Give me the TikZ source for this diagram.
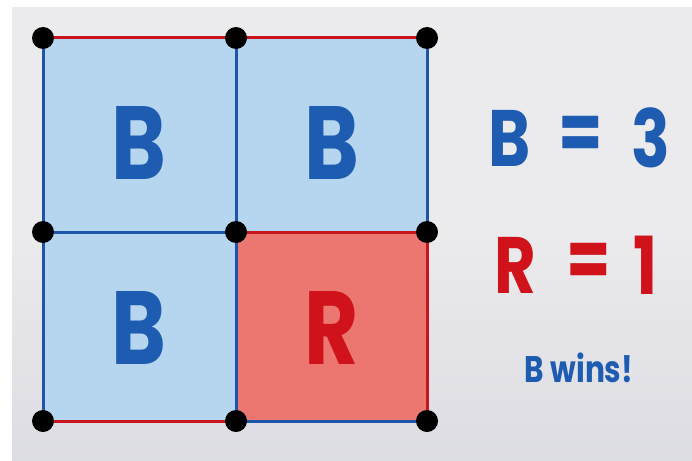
\documentclass[tikz,border=0pt]{standalone}
\usepackage{fontspec}
\newfontfamily\markerfont{Poppins}
\pgfdeclarelayer{back}
\pgfdeclarelayer{mid}
\pgfsetlayers{back,mid,main}
\definecolor{paper}{HTML}{EBEBED}
\definecolor{paperlow}{HTML}{DCDCE3}
\definecolor{bluefill}{HTML}{B6D6EF}
\definecolor{redfill}{HTML}{EC7670}
\definecolor{blueedge}{HTML}{1D55A8}
\definecolor{rededge}{HTML}{C8141C}
\definecolor{bluetext}{HTML}{1E5CB2}
\definecolor{redtext}{HTML}{D0121A}
\tikzset{
  dot/.style={circle, fill=black, inner sep=0pt, minimum size=22pt},
  bedge/.style={draw=blueedge, line width=3pt},
  redge/.style={draw=rededge, line width=3pt},
  glyph/.style={transform shape, xscale=0.8, inner sep=0pt},
  cellB/.style={glyph, text=bluetext, font=\markerfont\bfseries\fontsize{104}{104}\selectfont},
  cellR/.style={glyph, text=redtext, font=\markerfont\bfseries\fontsize{104}{104}\selectfont},
  scoreB/.style={glyph, text=bluetext, font=\markerfont\bfseries\fontsize{80}{80}\selectfont},
  scoreR/.style={glyph, text=redtext, font=\markerfont\bfseries\fontsize{80}{80}\selectfont},
  verdict/.style={glyph, text=bluetext, font=\markerfont\bfseries\fontsize{37}{37}\selectfont},
}
\begin{document}
\begin{tikzpicture}[x=1pt, y=-1pt]
  \useasboundingbox (0,0) rectangle (692,460);

  % corner dots of the 2x2 board
  \node[dot] (d00) at (43,38) {};
  \node[dot] (d10) at (236,38) {};
  \node[dot] (d20) at (427,38) {};
  \node[dot] (d01) at (43,232) {};
  \node[dot] (d11) at (236,232) {};
  \node[dot] (d21) at (427,232) {};
  \node[dot] (d02) at (43,421) {};
  \node[dot] (d12) at (236,421) {};
  \node[dot] (d22) at (427,421) {};

  % backdrop
  \begin{pgfonlayer}{back}
    \fill[white] (0,0) rectangle (692,460);
    \shade[top color=paper, bottom color=paperlow, middle color=paper] (12,8) rectangle (692,460);
  \end{pgfonlayer}

  % filled cells and their edges
  \begin{pgfonlayer}{mid}
    \fill[bluefill] (d00.center) rectangle (d11.center);
    \fill[bluefill] (d10.center) rectangle (d21.center);
    \fill[bluefill] (d01.center) rectangle (d12.center);
    \fill[redfill]  (d11.center) rectangle (d22.center);

    \draw[redge] (d00.center) -- (d10.center);
    \draw[redge] (d10.center) -- (d20.center);
    \draw[bedge] (d00.center) -- (d01.center);
    \draw[bedge] (d01.center) -- (d02.center);
    \draw[bedge] (d10.center) -- (d11.center);
    \draw[bedge] (d11.center) -- (d12.center);
    \draw[bedge] (d20.center) -- (d21.center);
    \draw[redge] (d21.center) -- (d22.center);
    \draw[bedge] (d01.center) -- (d11.center);
    \draw[redge] (d11.center) -- (d21.center);
    \draw[redge] (d02.center) -- (d12.center);
    \draw[bedge] (d12.center) -- (d22.center);
  \end{pgfonlayer}

  % cell owners
  \node[cellB] (c1) at (139,143) {B};
  \node[cellB] (c2) at (332,143) {B};
  \node[cellB] (c3) at (139,328) {B};
  \node[cellR] (c4) at (332,328) {R};

  % tally
  \node[scoreB] (sb)  at (510,138) {B};
  \node[scoreB] (sbe) at (581,138) {=};
  \node[scoreB] (sbn) at (651,138) {3};
  \node[scoreR] (sr)  at (515,265) {R};
  \node[scoreR] (sre) at (589,265) {=};
  \node[scoreR] (srn) at (646,265) {1};
  \node[verdict] (win) at (579,368) {B wins!};
\end{tikzpicture}
\end{document}
